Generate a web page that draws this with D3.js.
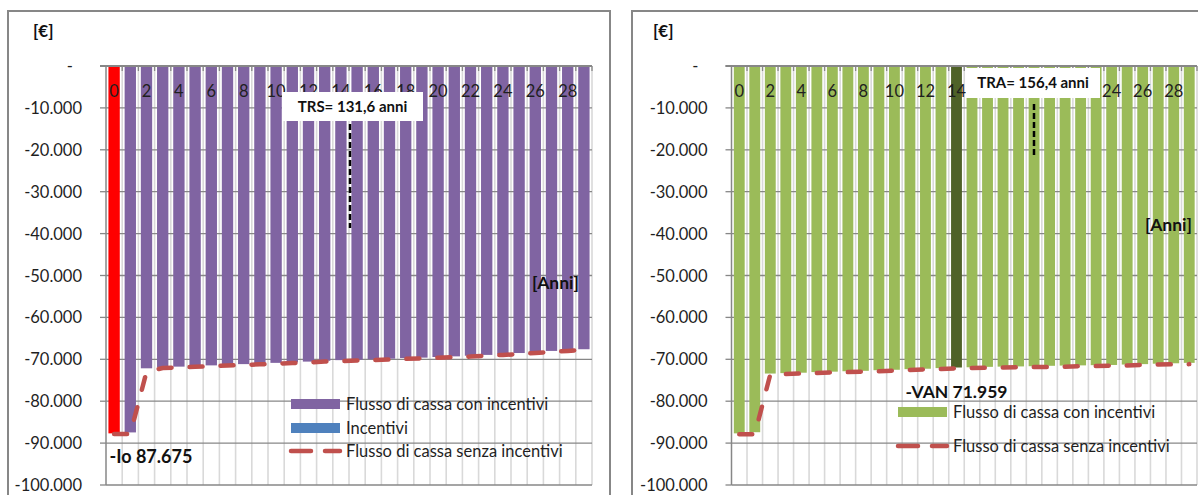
<!DOCTYPE html>
<html>
<head>
<meta charset="utf-8">
<script src="https://cdn.jsdelivr.net/npm/d3@7"></script>
<style>
  body { margin: 0; background: #ffffff; }
  svg { display: block; font-family: Lato, "Liberation Sans", sans-serif; }
</style>
</head>
<body>
<svg id="chart" width="1198" height="495"></svg>
<script>
// Anni di esercizio (categorie dell'asse orizzontale)
const anni = [0, 1, 2, 3, 4, 5, 6, 7, 8, 9, 10, 11, 12, 13, 14, 15, 16, 17, 18, 19, 20, 21, 22, 23, 24, 25, 26, 27, 28, 29];
const etichetteAnni = ["0", "2", "4", "6", "8", "10", "12", "14", "16", "18", "20", "22", "24", "26", "28"];

// Asse verticale in euro
const valoriAsseY = [0, -10000, -20000, -30000, -40000, -50000, -60000, -70000, -80000, -90000, -100000];
const etichetteAsseY = ["-", "-10.000", "-20.000", "-30.000", "-40.000", "-50.000", "-60.000", "-70.000", "-80.000", "-90.000", "-100.000"];

// Flusso di cassa cumulato - scenario TRS
const flussoConIncentiviTRS = [-87675, -87450, -72150, -71900, -71750, -71600, -71450, -71300, -71150, -71000,
  -70850, -70700, -70550, -70350, -70200, -70100, -70000, -69850, -69700, -69600,
  -69450, -69300, -69150, -68950, -68750, -68500, -68250, -68000, -67800, -67600];
const flussoSenzaIncentiviTRS = [-87850, -87850, -73000, -72100, -71950, -71800, -71650, -71500, -71350, -71200,
  -71050, -70900, -70750, -70550, -70400, -70300, -70200, -70050, -69900, -69800,
  -69650, -69500, -69350, -69150, -68950, -68750, -68500, -68250, -68000, -67750];

// Flusso di cassa cumulato - scenario TRA
const flussoConIncentiviTRA = [-87675, -87400, -73400, -73300, -73200, -73050, -72950, -72850, -72750, -72600,
  -72500, -72350, -72250, -72100, -71959, -71900, -71800, -71750, -71700, -71650,
  -71550, -71500, -71450, -71400, -71350, -71250, -71150, -71050, -70950, -70850];
const flussoSenzaIncentiviTRA = [-87900, -87900, -73600, -73500, -73400, -73250, -73150, -73050, -72950, -72850,
  -72700, -72550, -72400, -72300, -72150, -72050, -72000, -71950, -71900, -71850,
  -71800, -71750, -71650, -71600, -71500, -71450, -71350, -71250, -71200, -71150];

const annoVAN = 14;        // anno evidenziato nel grafico TRA
const testoTRS = "TRS= 131,6 anni";
const testoTRA = "TRA= 156,4 anni";

const COL = {
  frame: "#878787", grid: "#878787", vgrid: "#d9d9d9", text: "#1f1f1f",
  viola: "#8064a2", rosso: "#ff0000", blu: "#4f81bd", verde: "#9bbb59",
  verdeScuro: "#4f6228", linea: "#c0504d"
};

const euro = d3.formatLocale({ decimal: ",", thousands: ".", grouping: [3], currency: ["", "€"] }).format(",d");
const svg = d3.select("#chart");

function pannello(cfg) {
  const g = svg.append("g");
  const r = cfg.ritorno;

  g.append("rect")
    .attr("x", cfg.frame[0]).attr("y", cfg.frame[1])
    .attr("width", cfg.frame[2]).attr("height", cfg.frame[3])
    .attr("fill", "#fff").attr("stroke", COL.frame).attr("stroke-width", 2);

  const x = d3.scaleBand().domain(anni).range([cfg.left, cfg.right])
    .paddingInner(0.3).paddingOuter(0.15);
  const y = d3.scaleLinear().domain([0, -100000]).range([cfg.top, cfg.bottom]);
  const bw = x.bandwidth();
  const confine = d => x(d) + bw + x.step() * 0.15;

  // griglia verticale tra le categorie
  g.append("g").selectAll("line").data(anni).join("line")
    .attr("x1", confine).attr("x2", confine)
    .attr("y1", cfg.top).attr("y2", cfg.bottom)
    .attr("stroke", COL.vgrid).attr("stroke-width", 1.6);

  // griglia orizzontale
  g.append("g").selectAll("line").data(valoriAsseY.filter(v => v !== 0)).join("line")
    .attr("x1", cfg.left).attr("x2", cfg.right)
    .attr("y1", d => y(d)).attr("y2", d => y(d))
    .attr("stroke", COL.grid).attr("stroke-width", 1.3);

  // barre del flusso con incentivi
  g.append("g").selectAll("rect").data(cfg.barre).join("rect")
    .attr("x", (d, i) => x(anni[i]))
    .attr("y", y(0))
    .attr("width", bw)
    .attr("height", d => y(d) - y(0))
    .attr("fill", (d, i) => cfg.coloreBarra(i));

  // linea del flusso senza incentivi
  const linea = d3.line().x((d, i) => x(anni[i]) + bw / 2).y(d => y(d));
  g.append("path").datum(cfg.linea)
    .attr("d", linea)
    .attr("fill", "none").attr("stroke", COL.linea)
    .attr("stroke-width", 4.5).attr("stroke-linecap", "round")
    .attr("stroke-dasharray", "13 18");

  // assi
  g.append("line").attr("x1", cfg.left).attr("x2", cfg.left)
    .attr("y1", cfg.top).attr("y2", cfg.bottom)
    .attr("stroke", COL.grid).attr("stroke-width", 1.5);
  g.append("line").attr("x1", cfg.left - 6).attr("x2", cfg.right)
    .attr("y1", cfg.top).attr("y2", cfg.top)
    .attr("stroke", COL.grid).attr("stroke-width", 1.8);
  g.append("g").selectAll("line").data(anni).join("line")
    .attr("x1", confine).attr("x2", confine)
    .attr("y1", cfg.top).attr("y2", cfg.top + 5)
    .attr("stroke", COL.grid).attr("stroke-width", 1.3);
  g.append("g").selectAll("line").data(valoriAsseY).join("line")
    .attr("x1", cfg.left - 6).attr("x2", cfg.left)
    .attr("y1", d => y(d)).attr("y2", d => y(d))
    .attr("stroke", COL.grid).attr("stroke-width", 1.3);

  // etichette asse Y
  g.append("g").selectAll("text").data(valoriAsseY).join("text")
    .attr("x", cfg.left - 24)
    .attr("dx", d => d === 0 ? -9 : 0)
    .attr("y", d => y(d) + 6)
    .attr("text-anchor", "end")
    .attr("font-size", 16.5).attr("fill", COL.text)
    .text((d, i) => etichetteAsseY[i]);

  // etichette anni, all'interno dell'area del grafico;
  // quelle interamente coperte dal riquadro del tempo di ritorno non si vedono
  const yEtichetta = cfg.top + 31;
  const coperta = d => {
    const cx = x(+d) + bw / 2;
    return r.box[1] <= yEtichetta - 12 && r.box[1] + r.box[3] >= yEtichetta &&
      cx - 8 >= r.box[0] && cx + 8 <= r.box[0] + r.box[2];
  };
  g.append("g").selectAll("text").data(etichetteAnni.filter(d => !coperta(d))).join("text")
    .attr("x", d => x(+d) + bw / 2)
    .attr("y", yEtichetta)
    .attr("text-anchor", "middle")
    .attr("font-size", 16.5).attr("fill", COL.text)
    .text(d => d);

  // unità di misura
  g.append("text").attr("x", cfg.euro[0]).attr("y", cfg.euro[1])
    .attr("font-size", 17).attr("font-weight", 700).attr("fill", "#111").text("[€]");
  g.append("text").attr("x", cfg.anniLabel[0]).attr("y", cfg.anniLabel[1])
    .attr("font-size", 17.5).attr("font-weight", 700).attr("fill", "#111").text("[Anni]");

  // riquadro tempo di ritorno con linea tratteggiata
  g.append("line").attr("x1", r.lx).attr("x2", r.lx).attr("y1", r.ly1).attr("y2", r.ly2)
    .attr("stroke", "#000").attr("stroke-width", 2.5).attr("stroke-dasharray", "6 3");
  g.append("rect").attr("x", r.box[0]).attr("y", r.box[1]).attr("width", r.box[2]).attr("height", r.box[3])
    .attr("fill", "#fff");
  g.append("text").attr("x", r.box[0] + r.box[2] / 2).attr("y", r.box[1] + r.box[3] / 2 + 5)
    .attr("text-anchor", "middle").attr("font-size", 15).attr("font-weight", 700).attr("fill", "#111")
    .text(r.testo);

  return { g, x, y, bw };
}

// ---------- Pannello sinistro: TRS ----------
const sx = pannello({
  frame: [8, 11, 602, 520],
  left: 106, right: 592, top: 66, bottom: 485,
  barre: flussoConIncentiviTRS,
  linea: flussoSenzaIncentiviTRS,
  coloreBarra: i => i === 0 ? COL.rosso : COL.viola,
  euro: [33, 37], anniLabel: [532, 289],
  ritorno: { lx: 350, ly1: 124, ly2: 228, box: [282, 92, 141, 29], testo: testoTRS }
});

sx.g.append("text")
  .attr("x", sx.x(0) + 1).attr("y", 463)
  .attr("font-size", 18).attr("font-weight", 700).attr("fill", "#111")
  .text("-Io " + euro(-flussoConIncentiviTRS[0]));

const legS = sx.g.append("g").attr("font-size", 16.5).attr("fill", COL.text);
legS.append("rect").attr("x", 291).attr("y", 399).attr("width", 49).attr("height", 10).attr("fill", COL.viola);
legS.append("text").attr("x", 346).attr("y", 410).text("Flusso di cassa con incentivi");
legS.append("rect").attr("x", 291).attr("y", 423).attr("width", 49).attr("height", 10).attr("fill", COL.blu);
legS.append("text").attr("x", 346).attr("y", 434).text("Incentivi");
legS.append("line").attr("x1", 291).attr("x2", 340).attr("y1", 451).attr("y2", 451)
  .attr("stroke", COL.linea).attr("stroke-width", 4.5).attr("stroke-linecap", "round").attr("stroke-dasharray", "20 14");
legS.append("text").attr("x", 346).attr("y", 457).text("Flusso di cassa senza incentivi");

// ---------- Pannello destro: TRA ----------
const dx = pannello({
  frame: [632, 11, 600, 520],
  left: 731.5, right: 1197, top: 66, bottom: 485,
  barre: flussoConIncentiviTRA,
  linea: flussoSenzaIncentiviTRA,
  coloreBarra: i => i === annoVAN ? COL.verdeScuro : COL.verde,
  euro: [653, 37], anniLabel: [1145, 231],
  ritorno: { lx: 1034, ly1: 104, ly2: 157, box: [966, 68, 134, 30], testo: testoTRA }
});

dx.g.append("text")
  .attr("x", dx.x(annoVAN) + dx.bw / 2).attr("y", 398)
  .attr("text-anchor", "middle")
  .attr("font-size", 17.5).attr("font-weight", 700).attr("fill", "#111")
  .text("-VAN " + euro(-flussoConIncentiviTRA[annoVAN]));

const legD = dx.g.append("g").attr("font-size", 16.5).attr("fill", COL.text);
legD.append("rect").attr("x", 898).attr("y", 407).attr("width", 49).attr("height", 10).attr("fill", COL.verde);
legD.append("text").attr("x", 953).attr("y", 418).text("Flusso di cassa con incentivi");
legD.append("line").attr("x1", 898).attr("x2", 947).attr("y1", 446).attr("y2", 446)
  .attr("stroke", COL.linea).attr("stroke-width", 4.5).attr("stroke-linecap", "round").attr("stroke-dasharray", "20 14");
legD.append("text").attr("x", 953).attr("y", 452).text("Flusso di cassa senza incentivi");
</script>
</body>
</html>
